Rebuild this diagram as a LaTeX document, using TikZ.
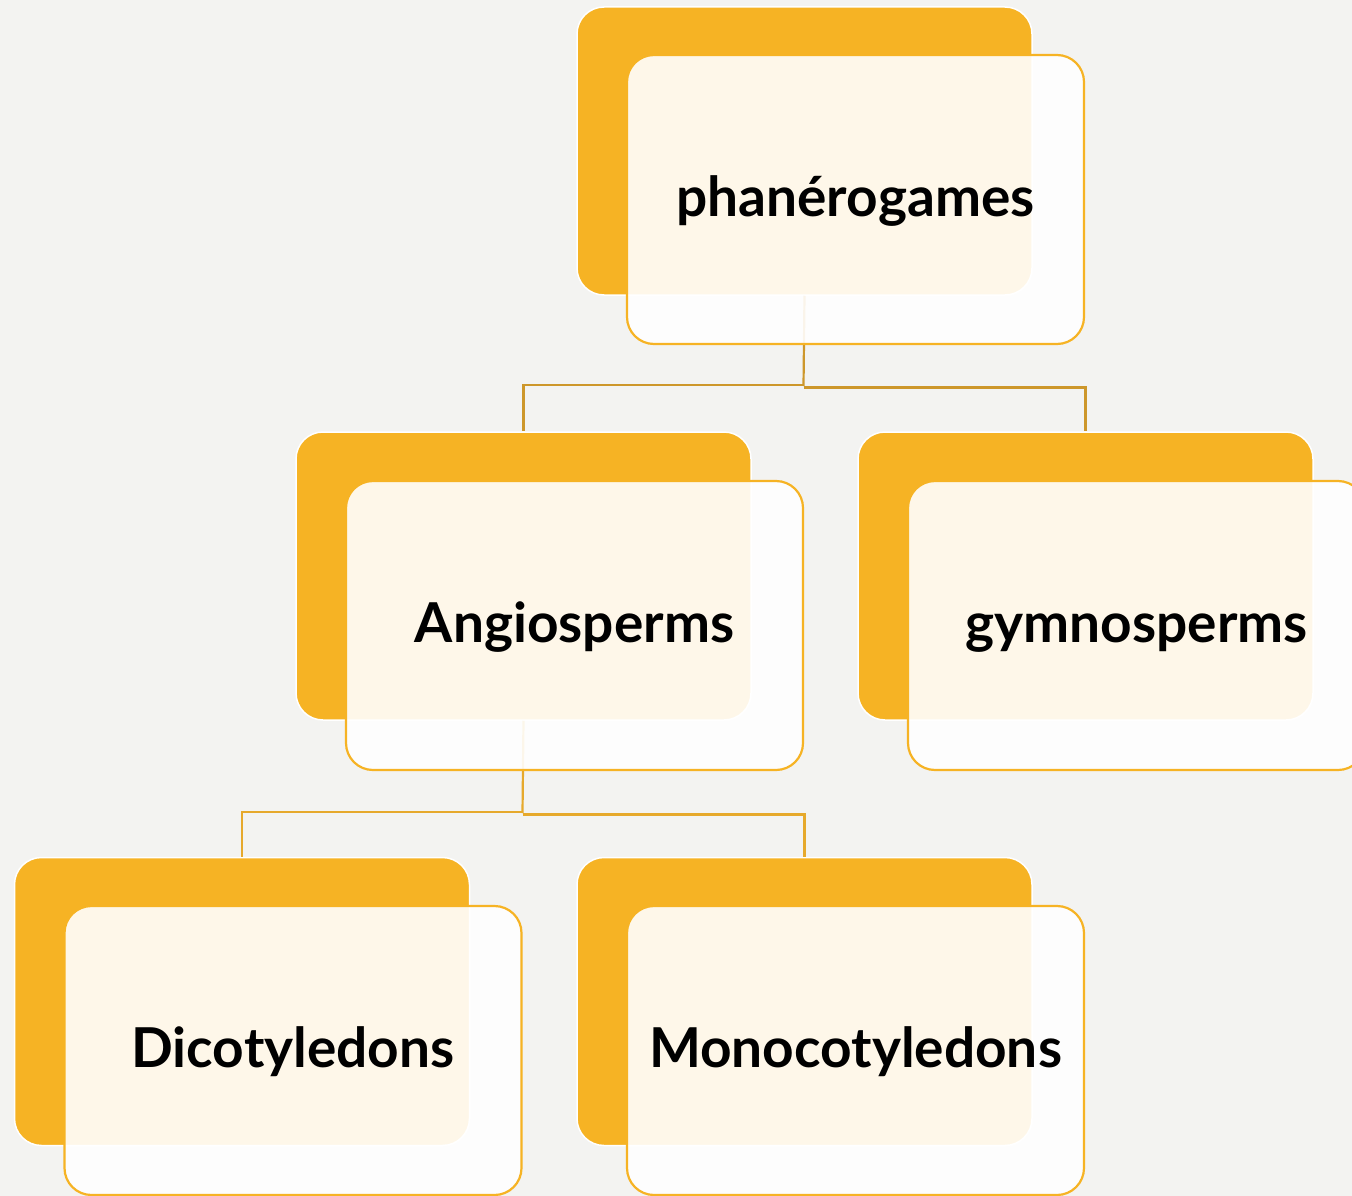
\documentclass[tikz,border=0pt]{standalone}
\usepackage{fontspec}
\setmainfont{Lato}
\definecolor{bg}{HTML}{F3F3F1}
\definecolor{gold}{HTML}{F6B324}
\definecolor{lineA}{HTML}{CD972B}
\definecolor{lineB}{HTML}{E6A92C}
\begin{document}
\begin{tikzpicture}[x=1pt,y=-1pt,
  backbox/.style={rectangle, rounded corners=27pt, minimum width=455pt, minimum height=288pt, inner sep=0pt, fill=gold, draw=white, line width=1.5pt},
  frontbox/.style={rectangle, rounded corners=27pt, minimum width=457pt, minimum height=289pt, inner sep=0pt, fill=white, fill opacity=0.9, draw=gold, line width=2.2pt},
  label/.style={font=\fontsize{55}{66}\selectfont\bfseries, anchor=base, inner sep=0pt},
  connA/.style={draw=lineA, line width=2.2pt},
  connB/.style={draw=lineB, line width=2.2pt}]
\fill[bg] (0,0) rectangle (1352,1196);
\useasboundingbox (0,0) rectangle (1352,1196);
% back boxes
\node[backbox] (b1) at (804.5,151) {};
\node[backbox] (b2) at (523.5,576) {};
\node[backbox] (b3) at (1085.5,576) {};
\node[backbox] (b4) at (242,1001.5) {};
\node[backbox] (b5) at (804.5,1001.5) {};
% connectors
\coordinate (j1) at (803.5,386);
\coordinate (j2) at (522.5,813);
\draw[connA] (b1.south) -- (j1);
\draw[connA] ([yshift=1pt]j1) -| (b2.north);
\draw[connA] ([yshift=-1.5pt]j1) -| (b3.north);
\draw[connB] (b2.south) -- (j2);
\draw[connB] ([yshift=1pt]j2) -| (b4.north);
\draw[connB] ([yshift=-1.5pt]j2) -| (b5.north);
% front boxes
\node[frontbox] (f1) at (855.5,199.5) {};
\node[frontbox] (f2) at (574.5,625.5) {};
\node[frontbox] (f3) at (1136.5,625.5) {};
\node[frontbox] (f4) at (293,1050.5) {};
\node[frontbox] (f5) at (855.5,1050.5) {};
% labels
\node[label] (t1) at ([yshift=-17pt]f1.center) {phanérogames};
\node[label] (t2) at ([yshift=-17pt]f2.center) {Angiosperms};
\node[label] (t3) at ([yshift=-17pt]f3.center) {gymnosperms};
\node[label] (t4) at ([yshift=-17pt]f4.center) {Dicotyledons};
\node[label] (t5) at ([yshift=-17pt]f5.center) {Monocotyledons};
\end{tikzpicture}
\end{document}
